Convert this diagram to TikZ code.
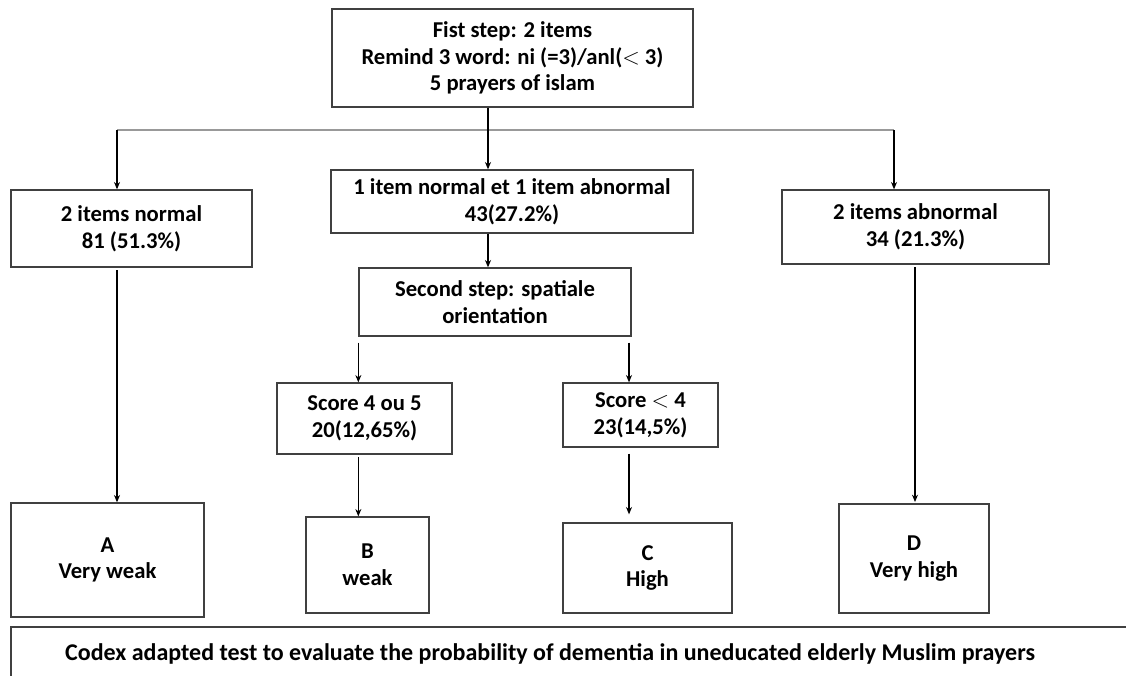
\documentclass[tikz,border=0pt]{standalone}
\usepackage{fontspec}
\setmainfont{Carlito}
\usetikzlibrary{arrows.meta, calc}

\tikzset{
  box/.style={draw=black!75, line width=1pt, rectangle, align=center, inner sep=0pt,
              font=\fontsize{17}{20}\selectfont\bfseries},
  sz/.style 2 args={minimum width=#1*0.75pt, minimum height=#2*0.75pt},
  arr/.style={-{Stealth[length=5.5pt,width=4.5pt]}, line width=0.8pt},
}

\begin{document}
\begin{tikzpicture}[x=0.75pt, y=-0.75pt]
  \useasboundingbox (0,0) rectangle (1126,676);
  % first step
  \node[box, sz={361}{98}] (first) at (512.5,58) {Fist step: 2 items\\Remind 3 word: ni (=3)/anl($<$ 3)\\5 prayers of islam};
  \node[box, sz={241}{77}] (normal) at (131.5,228.5) {2 items normal\\81 (51.3\%)};
  \node[box, sz={362}{63}] (mixed) at (512,201.5) {1 item normal et 1 item abnormal\\43(27.2\%)};
  \node[box, sz={267}{74}] (abnormal) at (915.5,227) {2 items abnormal\\34 (21.3\%)};
  % second step
  \node[box, sz={272}{68}] (second) at (495,302) {Second step: spatiale\\orientation};
  \node[box, sz={175}{71}] (high45) at (364.5,418.5) {Score 4 ou 5\\20(12,65\%)};
  \node[box, sz={155}{64}] (low4) at (640.5,415) {Score $<$ 4\\23(14,5\%)};
  % results
  \node[box, sz={193}{114}] (A) at (107.5,560) {A\\Very weak};
  \node[box, sz={123}{96}] (B) at (367.5,565) {B\\weak};
  \node[box, sz={169}{90}] (C) at (647.5,568) {C\\High};
  \node[box, sz={150}{109}] (D) at (914,558.5) {D\\Very high};

  \coordinate (splitL) at (117,130);
  \coordinate (splitM) at (488,130);
  \coordinate (splitR) at (894,130);
  \coordinate (colD) at (915,264);
  \draw[black!40, line width=0.9pt] (splitL) -- (splitR);
  \draw[arr] (splitM |- first.south) -- (splitM |- mixed.north);
  \draw[arr] (splitL) -- (splitL |- normal.north);
  \draw[arr] (splitR) -- (splitR |- abnormal.north);
  \draw[arr] (splitM |- mixed.south) -- (splitM |- second.north);
  \draw[arr, shorten <=4.5pt] (second.south west) -- (second.south west |- high45.north);
  \draw[arr, shorten <=4.5pt] ([xshift=-2pt]second.south east) -- ([xshift=-2pt]second.south east |- low4.north);
  \draw[arr, shorten <=2pt] (splitL |- normal.south) -- (splitL |- A.north);
  \draw[arr, shorten <=2pt] (second.south west |- high45.south) -- (second.south west |- B.north);
  \draw[arr, shorten <=4.5pt, shorten >=6pt] ([xshift=-2pt]second.south east |- low4.south) -- ([xshift=-2pt]second.south east |- C.north);
  \draw[arr, shorten <=2pt, shorten >=1pt] (colD |- abnormal.south) -- (colD |- D.north);

  % caption
  \coordinate (capL) at (11,627);
  \draw[black!75, line width=1pt] (1126,627) -- (capL) -- (11,676);
  \node[font=\fontsize{18}{20}\selectfont\bfseries] (caption) at (550,654) {Codex adapted test to evaluate the probability of dementia in uneducated elderly Muslim prayers};
\end{tikzpicture}
\end{document}
